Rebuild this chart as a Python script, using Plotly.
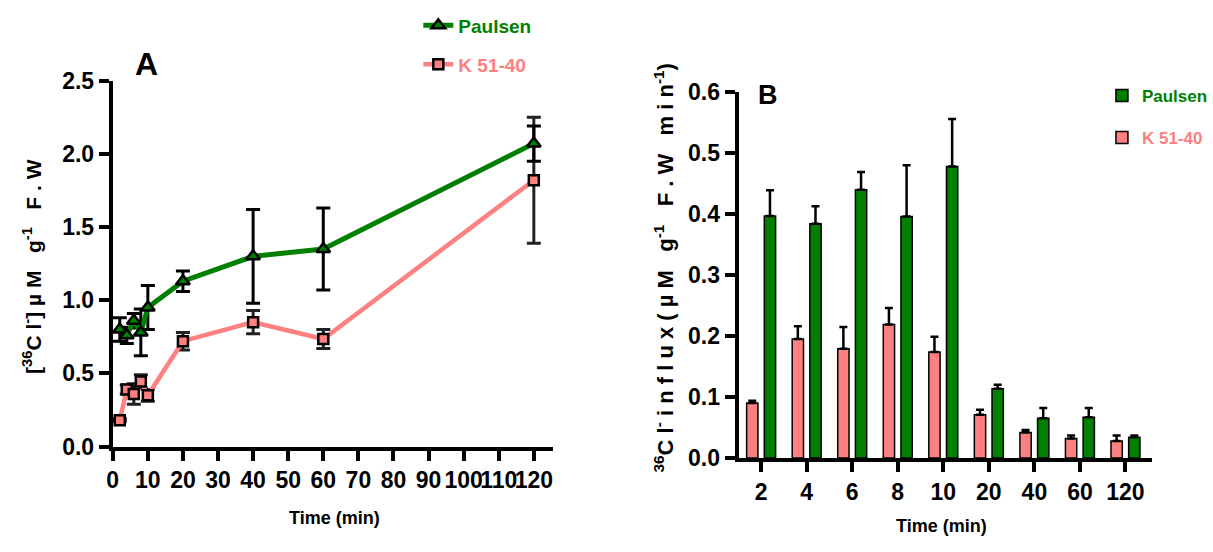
import plotly.graph_objects as go

# ---- data -------------------------------------------------------------
time_min = [2, 4, 6, 8, 10, 20, 40, 60, 120]

# panel A: 36Cl- accumulation (uM g-1 F.W)
paulsen_cl = [0.80, 0.76, 0.86, 0.78, 0.95, 1.13, 1.30, 1.35, 2.07]
paulsen_cl_sem = [0.08, 0.055, 0.05, 0.16, 0.15, 0.07, 0.32, 0.28, 0.12]
k5140_cl = [0.18, 0.39, 0.36, 0.445, 0.35, 0.72, 0.85, 0.735, 1.82]
k5140_cl_sem = [0.01, 0.03, 0.07, 0.045, 0.04, 0.06, 0.08, 0.065, 0.43]

# panel B: 36Cl- influx (uM g-1 F.W min-1)
influx_labels = ["2", "4", "6", "8", "10", "20", "40", "60", "120"]
k5140_influx = [0.090, 0.195, 0.179, 0.219, 0.174, 0.071, 0.042, 0.032, 0.028]
k5140_influx_sem = [0.004, 0.021, 0.036, 0.027, 0.025, 0.008, 0.004, 0.005, 0.009]
paulsen_influx = [0.397, 0.384, 0.440, 0.396, 0.478, 0.1135, 0.065, 0.067, 0.034]
paulsen_influx_sem = [0.042, 0.029, 0.029, 0.084, 0.078, 0.0065, 0.017, 0.015, 0.003]

A_xticks = list(range(0, 121, 10))

# ---- styling ----------------------------------------------------------
W, H = 1213, 552
GREEN = "#008000"
PINK = "#FF8080"
FONT = "Liberation Sans, Arial, sans-serif"


def px(x):
    return x / W


def py(y):
    return 1 - y / H


def bold(size, color="black"):
    return dict(family=FONT, size=size, color=color, weight="bold")


axis_style = dict(
    showline=True, linewidth=4, linecolor="black",
    ticks="outside", ticklen=10, tickwidth=3.5, tickcolor="black",
    showgrid=False, zeroline=False, tickangle=0,
    tickfont=bold(23),
)

fig = go.Figure()

# ---- panel A: time course lines --------------------------------------
fig.add_trace(go.Scatter(
    x=time_min, y=k5140_cl, name="K 51-40", mode="lines+markers",
    line=dict(color=PINK, width=4.5),
    marker=dict(symbol="square", size=10, color=PINK, line=dict(color="black", width=2.5)),
    error_y=dict(type="data", array=k5140_cl_sem, color="#222222", thickness=3, width=7),
    xaxis="x", yaxis="y", legend="legend2", cliponaxis=False,
))
fig.add_trace(go.Scatter(
    x=time_min, y=paulsen_cl, name="Paulsen", mode="lines+markers",
    line=dict(color=GREEN, width=5),
    marker=dict(symbol="triangle-up", size=12, color=GREEN, line=dict(color="black", width=2.5)),
    error_y=dict(type="data", array=paulsen_cl_sem, color="black", thickness=3, width=7),
    xaxis="x", yaxis="y", legend="legend", cliponaxis=False,
))

# ---- panel B: influx bars --------------------------------------------
fig.add_trace(go.Bar(
    x=influx_labels, y=k5140_influx, name="K 51-40",
    marker=dict(color=PINK, line=dict(color="black", width=1.5)),
    error_y=dict(type="data", symmetric=False, array=k5140_influx_sem,
                 arrayminus=[0] * len(k5140_influx), color="black", thickness=2.5, width=4),
    xaxis="x2", yaxis="y2", legend="legend4",
))
fig.add_trace(go.Bar(
    x=influx_labels, y=paulsen_influx, name="Paulsen",
    marker=dict(color=GREEN, line=dict(color="black", width=1.5)),
    error_y=dict(type="data", symmetric=False, array=paulsen_influx_sem,
                 arrayminus=[0] * len(paulsen_influx), color="black", thickness=2.5, width=4),
    xaxis="x2", yaxis="y2", legend="legend3",
))


def legend_at(x, y, color, size):
    return dict(
        x=px(x), y=py(y), xanchor="left", yanchor="middle",
        bgcolor="rgba(0,0,0,0)", borderwidth=0,
        font=bold(size, color),
    )


def note(text, x, y, size, angle=0):
    return dict(text=text, x=px(x), y=py(y), xref="paper", yref="paper",
                xanchor="center", yanchor="middle",
                showarrow=False, textangle=angle, font=bold(size))


sp = "&nbsp;"

fig.update_layout(
    width=W, height=H,
    margin=dict(l=0, r=0, t=0, b=0),
    paper_bgcolor="white", plot_bgcolor="white",
    showlegend=True,
    barmode="group", bargap=0.224, bargroupgap=0.36,
    xaxis=dict(domain=[px(109), px(559)], range=[0, 125.6], tickvals=A_xticks,
               anchor="y", **axis_style),
    yaxis=dict(domain=[py(455), py(71)], range=[0, 2.5], dtick=0.5, tick0=0,
               tickformat=".1f", anchor="x", **axis_style),
    xaxis2=dict(domain=[px(748), px(1170)], type="category", range=[-0.495, 8.58],
                anchor="y2", **axis_style),
    yaxis2=dict(domain=[py(467), py(83)], range=[0, 0.6], dtick=0.1, tick0=0,
                tickformat=".1f", anchor="x2", **axis_style),
    legend=legend_at(421, 13, GREEN, 19),
    legend2=legend_at(421, 54, PINK, 19),
    legend3=legend_at(1119, 87, GREEN, 17),
    legend4=legend_at(1119, 131, PINK, 17),
    annotations=[
        note("A", 143, 54, 32),
        note("B", 778, 86, 27),
        note("Time (min)", 335, 530, 18),
        note("Time (min)", 955, 538, 18),
        note(f"[<sup>36</sup>C l<sup>-</sup>] µ M{sp}{sp} g<sup>-1</sup>{sp}{sp} F . W",
             27, 266, 21, -90),
        note(f"<sup>36</sup>C l<sup>-</sup> i n f l u x ( µ M{sp}{sp} g<sup>-1</sup>{sp}{sp} "
             f"F . W{sp}{sp} m i n<sup>-1</sup>)",
             672, 268, 22, -90),
    ],
)

fig.write_html("out.html", config={"displayModeBar": False})
